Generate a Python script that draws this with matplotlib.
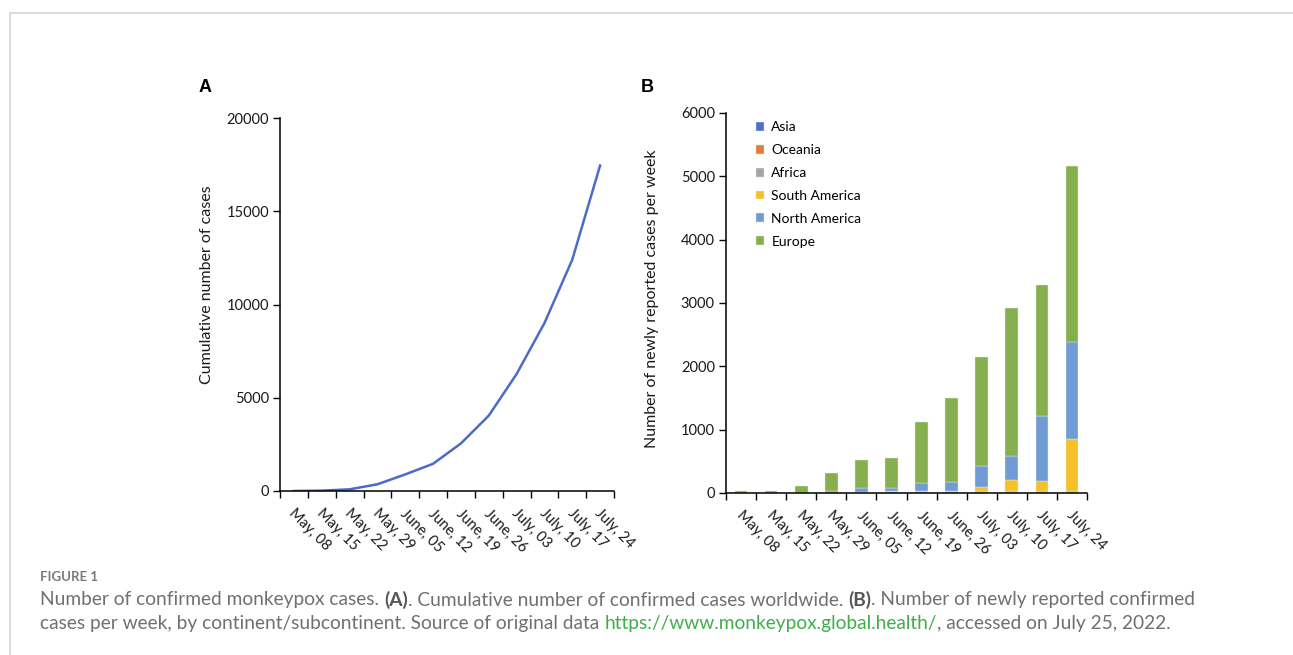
import matplotlib
matplotlib.use("Agg")
import matplotlib.pyplot as plt
from matplotlib.patches import Rectangle
import numpy as np

plt.rcParams["font.family"] = ["Lato", "DejaVu Sans"]

# Data
weeks = ["May, 08", "May, 15", "May, 22", "May, 29", "June, 05", "June, 12",
         "June, 19", "June, 26", "July, 03", "July, 10", "July, 17", "July, 24"]
cumulative = [0, 20, 90, 360, 890, 1460, 2550, 4040, 6270, 9000, 12400, 17450]

continents = ["Asia", "Oceania", "Africa", "South America", "North America", "Europe"]
asia = [0, 0, 0, 2, 5, 5, 8, 10, 15, 18, 20, 20]
oceania = [0, 0, 0, 0, 0, 1, 2, 3, 5, 5, 12, 12]
africa = [0, 0, 1, 2, 3, 3, 3, 4, 5, 5, 5, 5]
south_america = [0, 0, 0, 0, 2, 16, 22, 20, 75, 185, 145, 820]
north_america = [0, 0, 0, 33, 65, 50, 125, 143, 330, 377, 1028, 1533]
europe = [30, 30, 108, 273, 440, 475, 965, 1320, 1715, 2330, 2070, 2780]

colors = ["#4E6FC4", "#E07B39", "#A5A5A5", "#F4C12B", "#709BD5", "#86AF4F"]
line_color = "#4A6CC8"
text_color = "#1a1a1a"

W, H = 1293, 655
fig = plt.figure(figsize=(W / 100, H / 100), dpi=100)

# card border
fig.patches.append(Rectangle((9.5 / W, -0.1), 1.2, (H - 13) / H + 0.1,
                             transform=fig.transFigure, facecolor="none",
                             edgecolor="#d4d4d4", linewidth=1.2))


def style_axis(ax, n):
    x = np.arange(n)
    ax.set_xlim(-0.5, n - 0.5)
    ax.set_xticks(x + 0.08)
    ax.set_xticklabels(weeks, rotation=-45, ha="left", va="top",
                       rotation_mode="anchor", fontsize=10.5, color=text_color)
    ax.tick_params(axis="x", which="major", length=0, pad=11)
    ax.set_xticks(np.arange(n + 1) - 0.5, minor=True)
    ax.tick_params(axis="x", which="minor", length=5, direction="out", width=1)
    ax.tick_params(axis="y", length=5, direction="out", width=1,
                   labelsize=10.5, labelcolor=text_color, pad=3)
    for s in ["top", "right"]:
        ax.spines[s].set_visible(False)
    for s in ["left", "bottom"]:
        ax.spines[s].set_linewidth(1.1)


# Panel A
axA = fig.add_axes([280 / W, 1 - 491 / H, 334 / W, 373 / H])
x = np.arange(len(weeks))
axA.plot(x, cumulative, color=line_color, linewidth=1.8)
axA.set_ylim(0, 20000)
axA.set_yticks([0, 5000, 10000, 15000, 20000])
style_axis(axA, len(weeks))
axA.set_ylabel("Cumulative number of cases", fontsize=11.5, color=text_color)
axA.yaxis.set_label_coords(-0.198, 0.552)
fig.text(199 / W, 1 - 88 / H, "A", fontsize=13, fontweight="bold", va="center", ha="left",
         family=["Liberation Sans", "DejaVu Sans"])

# Panel B
axB = fig.add_axes([726 / W, 1 - 493 / H, 361 / W, 380 / H])
series = [asia, oceania, africa, south_america, north_america, europe]
bottom = np.zeros(len(weeks))
for name, vals, c in zip(continents, series, colors):
    axB.bar(x, vals, width=0.42, bottom=bottom, color=c, label=name,
            edgecolor="#e6eedc", linewidth=0.3)
    bottom += np.array(vals)
axB.set_ylim(0, 6000)
axB.set_yticks(range(0, 6001, 1000))
style_axis(axB, len(weeks))
axB.set_ylabel("Number of newly reported cases per week", fontsize=11.5,
               color=text_color)
axB.yaxis.set_label_coords(-0.185, 0.51)
axB.legend(loc="upper left", bbox_to_anchor=(0.06, 1.0), frameon=False,
           fontsize=10, handlelength=0.6, handleheight=0.6, handletextpad=0.5,
           labelspacing=0.78, borderaxespad=0.2)
fig.text(641 / W, 1 - 88 / H, "B", fontsize=13, fontweight="bold", va="center", ha="left",
         family=["Liberation Sans", "DejaVu Sans"])

# Caption
cap_font = ["Lato", "DejaVu Sans"]
gray = "#707070"
fig.text(40 / W, 1 - 577 / H, "FIGURE 1", fontsize=9.5, color="#7a7a7a",
         fontweight="bold", family=cap_font, va="center")

renderer = fig.canvas.get_renderer()


def put_runs(x0, y, runs, size):
    xpos = x0
    for txt, kw in runs:
        t = fig.text(xpos / W, 1 - y / H, txt, fontsize=size, va="center",
                     family=cap_font, **kw)
        bb = t.get_window_extent(renderer)
        xpos += bb.width


line1 = [("Number of confirmed monkeypox cases.\u00a0", dict(color=gray)),
         ("(A)", dict(color="#555555", fontweight="bold")),
         (". Cumulative number of confirmed cases worldwide.\u00a0", dict(color=gray)),
         ("(B)", dict(color="#555555", fontweight="bold")),
         (". Number of newly reported confirmed", dict(color=gray))]
line2 = [("cases per week, by continent/subcontinent. Source of original data\u00a0", dict(color=gray)),
         ("https://www.monkeypox.global.health/", dict(color="#3fae4a")),
         (", accessed on July 25, 2022.", dict(color=gray))]

cap_size = 13.8
put_runs(40, 600, line1, cap_size)
put_runs(40, 623, line2, cap_size)

fig.savefig("out.png", dpi=100, facecolor="white")
